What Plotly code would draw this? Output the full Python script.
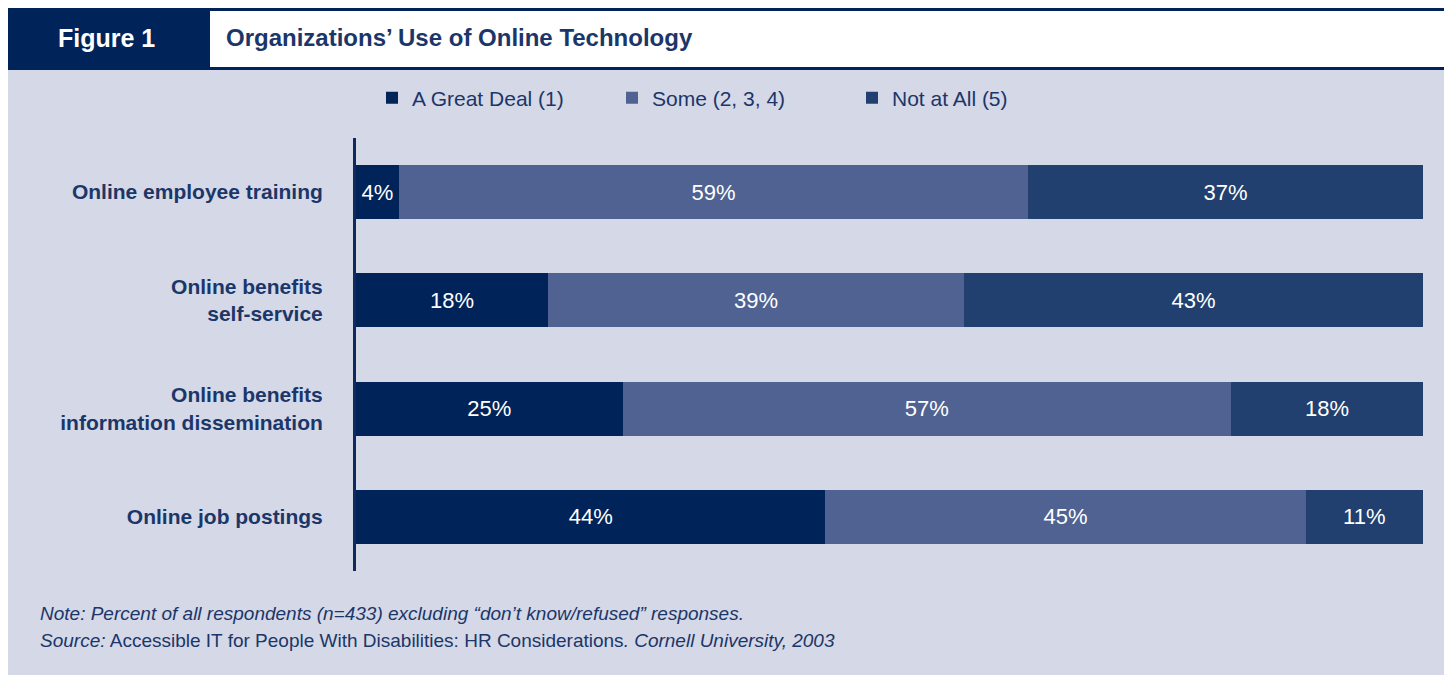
import plotly.graph_objects as go

categories = ["Online employee training", "Online benefits<br>self-service",
              "Online benefits<br>information dissemination", "Online job postings"]
great_deal = [4, 18, 25, 44]
some = [59, 39, 57, 45]
not_at_all = [37, 43, 18, 11]
series_names = ["A Great Deal (1)", "Some (2, 3, 4)", "Not at All (5)"]
colors = ["#00245A", "#4F6291", "#22406F"]

# page has an 8px body margin; work in screen pixels and shift
OFF = 8
W, H = 1452 - OFF, 675 - OFF
L, R, T, B = 356 - OFF, 1423 - OFF, 138 - OFF, 571 - OFF

def px(x):
    return (x - OFF - L) / (R - L)

def py(y):
    return (B - (y - OFF)) / (B - T)

NAVY = "#1B3668"
FONT = "Liberation Sans, Arial, sans-serif"
fig = go.Figure()
for name, vals, col in zip(series_names, [great_deal, some, not_at_all], colors):
    fig.add_trace(go.Bar(
        y=categories, x=vals, name=name, orientation="h",
        marker=dict(color=col, line=dict(width=0)),
        text=[f"{v}%" for v in vals], textposition="inside",
        insidetextanchor="middle", constraintext="none",
        textfont=dict(color="white", size=22, family=FONT),
        width=0.5, hoverinfo="skip",
    ))

shapes = [
    dict(type="rect", xref="paper", yref="paper", x0=px(8), x1=px(1448), y0=py(680), y1=py(70),
         fillcolor="#D5D8E7", line=dict(width=0), layer="below"),
    dict(type="rect", xref="paper", yref="paper", x0=px(8), x1=px(1448), y0=py(70), y1=py(8),
         fillcolor="#00245A", line=dict(width=0), layer="below"),
    dict(type="rect", xref="paper", yref="paper", x0=px(210), x1=px(1445), y0=py(67), y1=py(11),
         fillcolor="white", line=dict(width=0), layer="below"),
]

annotations = [
    dict(text="<b>Figure 1</b>", xref="paper", yref="paper", x=px(56), y=py(38),
         xanchor="left", yanchor="middle", showarrow=False,
         font=dict(color="white", size=25, family=FONT)),
    dict(text="<b>Organizations’ Use of Online Technology</b>", xref="paper", yref="paper",
         x=px(224), y=py(38), xanchor="left", yanchor="middle", showarrow=False,
         font=dict(color=NAVY, size=24, family=FONT)),
    dict(text="<i>Note: Percent of all respondents (n=433) excluding “don’t know/refused” responses.</i>",
         xref="paper", yref="paper", x=px(38), y=py(613), xanchor="left", yanchor="middle",
         showarrow=False, font=dict(color=NAVY, size=19, family=FONT)),
    dict(text="<i>Source:</i> Accessible IT for People With Disabilities: HR Considerations<i>. Cornell University, 2003</i>",
         xref="paper", yref="paper", x=px(38), y=py(640), xanchor="left", yanchor="middle",
         showarrow=False, font=dict(color=NAVY, size=19, family=FONT)),
]

fig.update_layout(
    width=W, height=H, barmode="stack",
    paper_bgcolor="white", plot_bgcolor="rgba(0,0,0,0)",
    margin=dict(l=L, r=W - R, t=T, b=H - B, autoexpand=False),
    shapes=shapes, annotations=annotations,
    font=dict(family=FONT, color=NAVY),
    legend=dict(orientation="h", x=px(372), y=py(98), xanchor="left", yanchor="middle",
                xref="paper", yref="paper",
                font=dict(size=21, color=NAVY, family=FONT), bgcolor="rgba(0,0,0,0)",
                entrywidth=195, entrywidthmode="pixels", traceorder="normal"),
    xaxis=dict(range=[0, 100], visible=False, fixedrange=True),
    yaxis=dict(autorange="reversed", showline=True, linecolor="#0F2B5E", linewidth=3,
               showgrid=False, zeroline=False, ticks="", ticklabelstandoff=26,
               tickfont=dict(size=21, color=NAVY, family=FONT),
               tickmode="array", tickvals=categories,
               ticktext=[f"<b>{c}</b>" for c in categories], fixedrange=True),
    showlegend=True,
)

fig.write_html("out.html")
